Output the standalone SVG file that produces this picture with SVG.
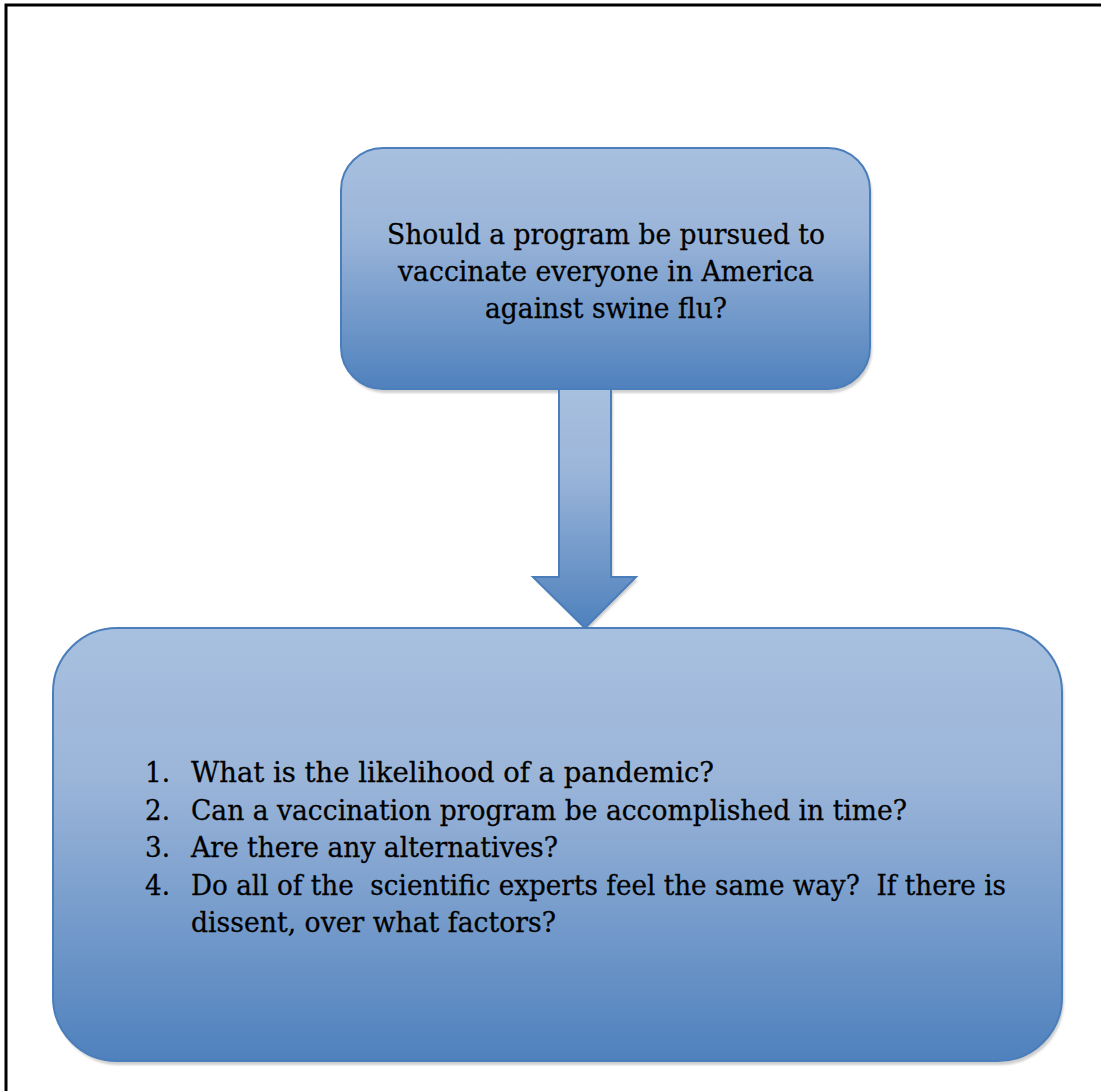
<svg xmlns="http://www.w3.org/2000/svg" width="1101" height="1091" viewBox="0 0 1101 1091">
  <defs>
    <linearGradient id="boxFill" x1="0" y1="0" x2="0" y2="1">
      <stop offset="0" stop-color="#a8c0df"/>
      <stop offset="0.35" stop-color="#9bb5d9"/>
      <stop offset="1" stop-color="#4f81bd"/>
    </linearGradient>
    <filter id="soft" x="-5%" y="-5%" width="110%" height="110%">
      <feGaussianBlur stdDeviation="1"/>
    </filter>
  </defs>
  <style>
    .shape { fill: url(#boxFill); stroke: #4a7ebb; stroke-width: 2; }
    .shadow { fill: #cfcfcf; filter: url(#soft); }
    .label { font-family: "DejaVu Serif", "Liberation Serif", serif; font-size: 28px; fill: #000; stroke: #000; stroke-width: 0.3; white-space: pre; }
    .center { text-anchor: middle; }
  </style>

  <rect width="1101" height="1091" fill="#ffffff"/>

  <!-- page frame: top and left edges -->
  <path d="M6 1091 V5 H1101" fill="none" stroke="#000" stroke-width="3"/>

  <!-- question box -->
  <g id="question">
    <rect class="shadow" x="343" y="152" width="529" height="241" rx="42"/>
    <rect class="shape" x="341" y="148" width="529" height="241" rx="42"/>
    <text class="label center" x="606" y="244" textLength="438" lengthAdjust="spacingAndGlyphs">Should a program be pursued to</text>
    <text class="label center" x="606" y="281" textLength="416" lengthAdjust="spacingAndGlyphs">vaccinate everyone in America</text>
    <text class="label center" x="606" y="318" textLength="242" lengthAdjust="spacingAndGlyphs">against swine flu?</text>
  </g>

  <!-- connector: block arrow -->
  <g id="connectors">
    <path class="shadow" d="M561 391 H613 V580 H638 L587 631 L536 580 H561 Z"/>
    <path class="shape" d="M559 389 H611 V577 H636 L585 628 L533 577 H559 Z" stroke-width="1.5"/>
  </g>

  <!-- issues box -->
  <g id="issues">
    <rect class="shadow" x="55" y="632" width="1009" height="433" rx="64"/>
    <rect class="shape" x="53" y="628" width="1009" height="433" rx="64"/>
    <text class="label" x="145" y="782" textLength="25" lengthAdjust="spacingAndGlyphs">1.</text>
    <text class="label" x="191" y="782" textLength="523" lengthAdjust="spacingAndGlyphs">What is the likelihood of a pandemic?</text>
    <text class="label" x="145" y="820" textLength="25" lengthAdjust="spacingAndGlyphs">2.</text>
    <text class="label" x="191" y="820" textLength="716" lengthAdjust="spacingAndGlyphs">Can a vaccination program be accomplished in time?</text>
    <text class="label" x="145" y="857" textLength="25" lengthAdjust="spacingAndGlyphs">3.</text>
    <text class="label" x="191" y="857" textLength="367" lengthAdjust="spacingAndGlyphs">Are there any alternatives?</text>
    <text class="label" x="145" y="895" textLength="25" lengthAdjust="spacingAndGlyphs">4.</text>
    <text class="label" x="191" y="895" textLength="815" lengthAdjust="spacingAndGlyphs">Do all of the  scientific experts feel the same way?  If there is</text>
    <text class="label" x="191" y="932" textLength="365" lengthAdjust="spacingAndGlyphs">dissent, over what factors?</text>
  </g>
</svg>
